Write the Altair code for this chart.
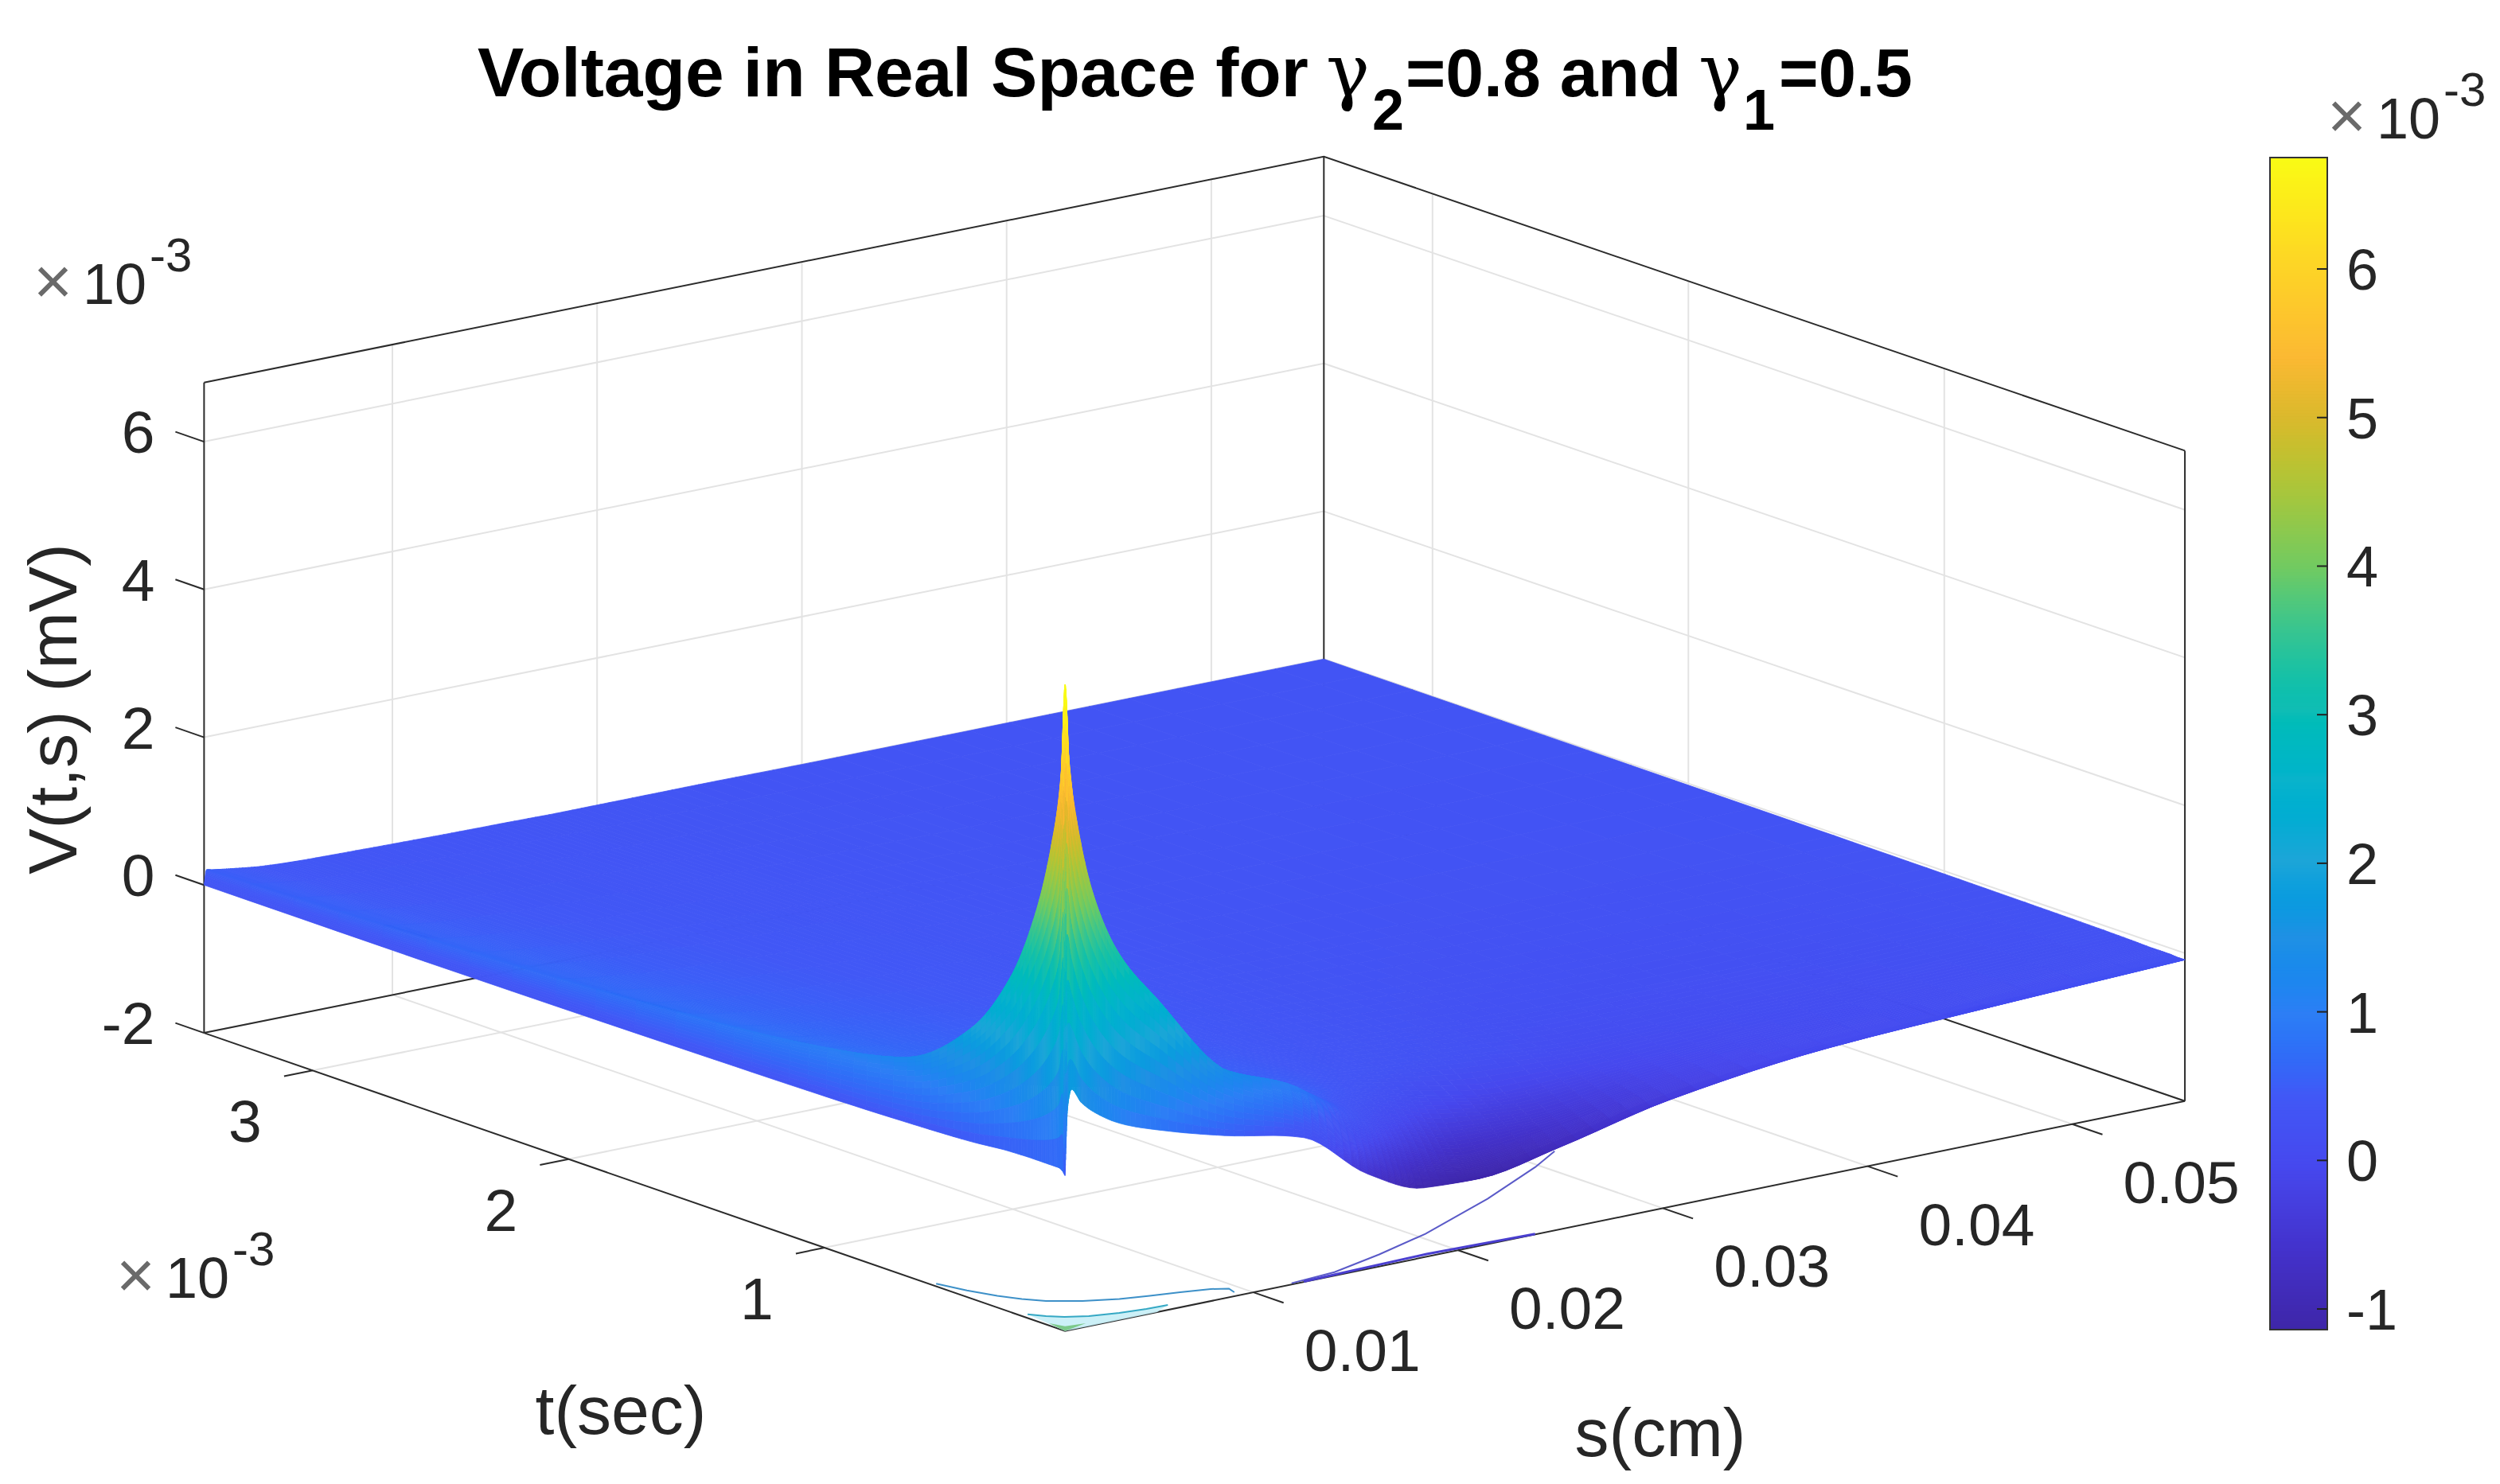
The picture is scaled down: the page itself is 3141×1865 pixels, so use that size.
import altair as alt
import numpy as np

alt.data_transformers.disable_max_rows()

W, H = 3125, 1845
OFF = 8
K = 3141 / 1568

# ---------------- axis limits and ticks ----------------
S_LIM = [0.0008, 0.0555]
T_LIM = [0.06, 3.4245]
Z_LIM = [-2.0, 6.8]
s_ticks = [0.01, 0.02, 0.03, 0.04, 0.05]
t_ticks = [1, 2, 3]
z_ticks = [-2, 0, 2, 4, 6]
bar_ticks = [-1, 0, 1, 2, 3, 4, 5, 6]
BAR_DOMAIN = [-1.139, 6.75]

# ---------------- surface values (x10^-3 mV) ----------------
s_nodes = [0.0008, 0.00092, 0.00111, 0.00158, 0.00236, 0.00353, 0.00547, 0.00859, 0.01248,
           0.0156, 0.01832, 0.02105, 0.02494, 0.03039, 0.03818, 0.04597, 0.0555]
t_nodes = [0.06, 0.0693, 0.0849, 0.1223, 0.1846, 0.2781, 0.4338, 0.683, 0.9946,
           1.4307, 2.0538, 2.729, 3.4245]
v_t00 = [0.10, 1.00, 1.25, 1.05, 0.85, 0.65, 0.45, 0.20, -0.05, -0.72, -1.06, -1.09, -0.89, -0.55, -0.29, -0.19, -0.09]
v_t01 = [0.15, 6.73, 5.70, 4.70, 3.75, 2.95, 2.20, 1.10, 0.45, -0.50, -0.95, -1.08, -0.88, -0.55, -0.29, -0.19, -0.09]
v_t02 = [0.18, 5.50, 5.10, 4.20, 3.40, 2.80, 2.05, 1.10, 0.60, -0.30, -0.85, -1.02, -0.85, -0.52, -0.28, -0.19, -0.09]
v_t03 = [0.18, 4.50, 4.00, 3.40, 2.90, 2.30, 1.60, 0.95, 0.58, 0.00, -0.55, -0.85, -0.75, -0.48, -0.27, -0.18, -0.08]
v_t04 = [0.18, 3.50, 3.10, 2.60, 2.20, 1.75, 1.25, 0.80, 0.50, 0.10, -0.25, -0.55, -0.60, -0.42, -0.25, -0.17, -0.08]
v_t05 = [0.17, 2.55, 2.25, 1.90, 1.55, 1.20, 0.90, 0.60, 0.38, 0.18, -0.02, -0.22, -0.40, -0.33, -0.22, -0.16, -0.07]
v_t06 = [0.12, 1.65, 1.50, 1.25, 1.00, 0.80, 0.60, 0.45, 0.30, 0.18, 0.08, 0.00, -0.08, -0.20, -0.18, -0.14, -0.06]
v_t07 = [0.08, 0.95, 0.90, 0.80, 0.65, 0.50, 0.42, 0.33, 0.23, 0.16, 0.10, 0.04, -0.03, -0.10, -0.13, -0.11, -0.05]
v_t08 = [0.05, 0.70, 0.65, 0.58, 0.50, 0.42, 0.33, 0.25, 0.18, 0.13, 0.10, 0.06, 0.00, -0.05, -0.09, -0.08, -0.04]
v_t09 = [0.03, 0.52, 0.50, 0.45, 0.40, 0.34, 0.27, 0.20, 0.14, 0.11, 0.08, 0.06, 0.02, -0.02, -0.05, -0.05, -0.03]
v_t10 = [0.01, 0.38, 0.36, 0.33, 0.30, 0.26, 0.20, 0.15, 0.10, 0.08, 0.06, 0.05, 0.03, 0.00, -0.02, -0.03, -0.02]
v_t11 = [0.00, 0.28, 0.27, 0.25, 0.22, 0.18, 0.14, 0.10, 0.07, 0.05, 0.04, 0.03, 0.02, 0.01, 0.00, -0.01, -0.01]
v_t12 = [0.00, 0.20, 0.19, 0.17, 0.14, 0.10, 0.07, 0.05, 0.03, 0.02, 0.01, 0.01, 0.01, 0.00, 0.00, 0.00, 0.00]
v_rows = [v_t00, v_t01, v_t02, v_t03, v_t04, v_t05, v_t06, v_t07, v_t08, v_t09, v_t10, v_t11, v_t12]

# The surface's colours read higher than its height gives, away from the trough.
COLOUR_LIFT = 0.32

# ---------------- floor contours (s, t) ----------------
c1_s = [0.00103, 0.00138, 0.00184, 0.0023, 0.00287, 0.00399, 0.00529, 0.00651, 0.00776, 0.00898, 0.00958, 0.00942]
c1_t = [0.582, 0.49, 0.408, 0.349, 0.30, 0.247, 0.207, 0.186, 0.167, 0.145, 0.122, 0.088]
c2_s = [0.00113, 0.00153, 0.00202, 0.00285, 0.00406, 0.00524, 0.00625]
c2_t = [0.2326, 0.1927, 0.1603, 0.131, 0.1092, 0.0974, 0.0943]
c3_s = [0.0008, 0.00099, 0.00121, 0.00212, 0.0008]
c3_t = [0.06, 0.1373, 0.093, 0.0843, 0.06]
c4_s = [0.01198, 0.01427, 0.01721, 0.02046, 0.02547, 0.02976, 0.03176]
c4_t = [0.0693, 0.0849, 0.1454, 0.2245, 0.3827, 0.5391, 0.6239]
c5_s = [0.0125, 0.0187, 0.0238]
c5_t = [0.063, 0.079, 0.063]

# parula, as seen on the colour bar
bar_fracs = [0, .07, .14, .2, .27, .335, .4, .47, .53, .6, .65, .715, .78, .83, .907, 1]
bar_colors = ["#3e26a8", "#4332cc", "#4648ee", "#4158f6", "#2d7ef5", "#2090e4", "#1da5d8", "#0ab3cb",
              "#10bdb4", "#3ac58e", "#70ca62", "#a8c63c", "#dbb92d", "#fbb933", "#fdd426", "#f9fb15"]
bar_domain = [BAR_DOMAIN[0] + f * (BAR_DOMAIN[1] - BAR_DOMAIN[0]) for f in bar_fracs]
color_scale = alt.Scale(domain=bar_domain, range=bar_colors, clamp=True)

TEXT = "#262626"
LINE = "#2b2b2b"
GRID = "#e3e3e3"
FONT = "Liberation Sans"


def project(s, t, z):
    """View of the box (MATLAB-like view), in full-page pixels."""
    a = 128.4 * (s - S_LIM[0]) / 0.01
    b = 160.5 * (t - T_LIM[0])
    h = (z - Z_LIM[0]) / (Z_LIM[1] - Z_LIM[0]) * 408
    return (668 + a - b) * K, (835 - 0.2054 * a - 0.3463 * b + 2.5 * (a / 702) * (b / 540) - h) * K


x_scale = alt.Scale(domain=[OFF, OFF + W], range=[0, W])
y_scale = alt.Scale(domain=[OFF, OFF + H], range=[0, H])


def lines_layer(segments, color, width):
    rows = []
    for k, seg in enumerate(segments):
        for i, p in enumerate(seg):
            x, y = project(*p)
            rows.append({"x": round(x, 1), "y": round(y, 1), "seg": k, "i": i})
    return alt.Chart(alt.Data(values=rows)).mark_line(color=color, strokeWidth=width, clip=False).encode(
        x=alt.X("x:Q", scale=x_scale, axis=None),
        y=alt.Y("y:Q", scale=y_scale, axis=None),
        detail="seg:N",
        order="i:Q",
    )


s0, s1 = S_LIM
t0, t1 = T_LIM
z0, z1 = Z_LIM

grid_segs = []
for s in s_ticks:
    grid_segs.append([(s, t0, z0), (s, t1, z0)])
    grid_segs.append([(s, t1, z0), (s, t1, z1)])
for t in t_ticks:
    grid_segs.append([(s0, t, z0), (s1, t, z0)])
    grid_segs.append([(s1, t, z0), (s1, t, z1)])
for z in z_ticks:
    grid_segs.append([(s0, t1, z), (s1, t1, z)])
    grid_segs.append([(s1, t1, z), (s1, t0, z)])

box_segs = [
    [(s0, t1, z1), (s1, t1, z1), (s1, t0, z1)],
    [(s0, t1, z0), (s0, t1, z1)],
    [(s1, t0, z0), (s1, t0, z1)],
    [(s1, t1, z0), (s1, t1, z1)],
    [(s0, t1, z0), (s0, t0, z0), (s1, t0, z0)],
    [(s0, t1, z0), (s1, t1, z0), (s1, t0, z0)],
]
for s in s_ticks:
    box_segs.append([(s, t0, z0), (s, t0 - 0.118, z0)])
for t in t_ticks:
    box_segs.append([(s0, t, z0), (s0 - 0.0014, t, z0)])
for z in z_ticks:
    box_segs.append([(s0, t1, z), (s0, t1 + 0.112, z)])


def poly(points):
    ring = [[round(float(x) - OFF, 1), round(float(y) - OFF, 1)] for x, y in points]
    ring.append(ring[0])
    return {"type": "Polygon", "coordinates": [ring]}


def pchip(x, y, xq):
    """Monotone shading between the read values, so facets do not show."""
    x, y = np.asarray(x, float), np.asarray(y, float)
    h = np.diff(x)
    d = np.diff(y) / h
    m = np.zeros_like(y)
    for k in range(1, len(y) - 1):
        if d[k - 1] * d[k] > 0:
            w1, w2 = 2 * h[k] + h[k - 1], h[k] + 2 * h[k - 1]
            m[k] = (w1 + w2) / (w1 / d[k - 1] + w2 / d[k])
    m[0], m[-1] = d[0], d[-1]
    idx = np.clip(np.searchsorted(x, xq, side="right") - 1, 0, len(h) - 1)
    u = (xq - x[idx]) / h[idx]
    return (y[idx] * (2 * u**3 - 3 * u**2 + 1) + h[idx] * m[idx] * (u**3 - 2 * u**2 + u)
            + y[idx + 1] * (-2 * u**3 + 3 * u**2) + h[idx] * m[idx + 1] * (u**3 - u**2))


def refine(nodes, counts):
    out = []
    for k, c in enumerate(counts):
        out.extend(np.linspace(nodes[k], nodes[k + 1], c, endpoint=False))
    out.append(nodes[-1])
    return np.array(out)


s_fine = refine(s_nodes, [14, 12, 10, 8, 8, 8, 8, 8, 8, 8, 6, 6, 6, 6, 4, 4])
t_fine = refine(t_nodes, [12, 12, 10, 8, 8, 8, 8, 6, 6, 4, 4, 4])
rows_fine = np.array([pchip(s_nodes, row, s_fine) for row in v_rows])
v_fine = np.array([pchip(t_nodes, rows_fine[:, c], t_fine) for c in range(len(s_fine))]).T

# Painter's order: far cells first.
features = []
for j in range(len(t_fine) - 2, -1, -1):
    for i in range(len(s_fine) - 2, -1, -1):
        idx = [(i, j), (i + 1, j), (i + 1, j + 1), (i, j + 1)]
        pts = [project(s_fine[p], t_fine[q], v_fine[q, p]) for p, q in idx]
        mean_v = float(sum(v_fine[q, p] for p, q in idx) / 4)
        shade = round(mean_v + COLOUR_LIFT * min(1.0, max(0.0, (mean_v + 1.1) / 0.8)), 3)
        features.append({"type": "Feature", "geometry": poly(pts), "V": shade, "edge": shade})

surface = alt.Chart(alt.Data(values=features)).mark_geoshape(strokeWidth=0.8).encode(
    fill=alt.Fill("V:Q", scale=color_scale, legend=None),
    stroke=alt.Stroke("edge:Q", scale=color_scale, legend=None),
).project(type="identity", scale=1, translate=[0, 0])


def floor_poly(ss, ts, fill, opacity=1.0):
    pts = [project(a, b, z0) for a, b in zip(ss, ts)]
    feat = [{"type": "Feature", "geometry": poly(pts)}]
    return alt.Chart(alt.Data(values=feat)).mark_geoshape(fill=fill, stroke=None, opacity=opacity).project(
        type="identity", scale=1, translate=[0, 0])


def floor_line(ss, ts, color, width):
    return lines_layer([[(a, b, z0) for a, b in zip(ss, ts)]], color, width)


def txt(s, x, y, size, bold=False, font=FONT, color=TEXT, align="left", baseline="alphabetic", angle=0):
    return alt.Chart(alt.Data(values=[{"label": s}])).mark_text(
        font=font, fontSize=size, fontWeight="bold" if bold else "normal", color=color,
        align=align, baseline=baseline, angle=angle,
    ).encode(x=alt.value(x - OFF), y=alt.value(y - OFF), text="label:N")


def tick_labels(values, fmt, point, dx, dy, size=75, align="center"):
    rows = []
    for v in values:
        x, y = project(*point(v))
        rows.append({"x": x + dx, "y": y + dy, "label": fmt(v)})
    return alt.Chart(alt.Data(values=rows)).mark_text(
        font=FONT, fontSize=size, color=TEXT, align=align, baseline="middle"
    ).encode(x=alt.X("x:Q", scale=x_scale, axis=None), y=alt.Y("y:Q", scale=y_scale, axis=None), text="label:N")


def exponent(x, y):
    return [txt("×", x - 4, y, 84, color="#6a6a6a"),
            txt("10", x + 58, y, 72),
            txt("-3", x + 142, y - 41, 60)]


# ---------------- colour bar ----------------
BAR_TOP, BAR_BOTTOM = 198, 1671
BAR_LEFT, BAR_RIGHT = 2852, 2924


def bar_y(v):
    return BAR_BOTTOM - (v - BAR_DOMAIN[0]) / (BAR_DOMAIN[1] - BAR_DOMAIN[0]) * (BAR_BOTTOM - BAR_TOP)


ramp_edges = np.linspace(BAR_DOMAIN[0], BAR_DOMAIN[1], 369)
ramp_rows = [{"V": float((lo + hi) / 2), "x": BAR_LEFT, "x2": BAR_RIGHT, "y": bar_y(hi), "y2": bar_y(lo) + 1}
             for lo, hi in zip(ramp_edges[:-1], ramp_edges[1:])]
bar_ramp = alt.Chart(alt.Data(values=ramp_rows)).mark_rect(strokeWidth=0).encode(
    x=alt.X("x:Q", scale=x_scale, axis=None), x2="x2:Q",
    y=alt.Y("y:Q", scale=y_scale, axis=None), y2="y2:Q",
    fill=alt.Fill("V:Q", scale=color_scale, legend=None),
)
bar_frame = alt.Chart(alt.Data(values=[{"x": BAR_LEFT, "x2": BAR_RIGHT, "y": BAR_TOP, "y2": BAR_BOTTOM}])).mark_rect(
    fill=None, stroke="#333333", strokeWidth=2
).encode(x=alt.X("x:Q", scale=x_scale, axis=None), x2="x2:Q",
         y=alt.Y("y:Q", scale=y_scale, axis=None), y2="y2:Q")
bar_tick_rows = [{"x": BAR_RIGHT - 13, "x2": BAR_RIGHT, "y": bar_y(v)} for v in bar_ticks]
bar_tick_layer = alt.Chart(alt.Data(values=bar_tick_rows)).mark_rule(color="#222222", strokeWidth=2).encode(
    x=alt.X("x:Q", scale=x_scale, axis=None), x2="x2:Q", y=alt.Y("y:Q", scale=y_scale, axis=None))
bar_label_rows = [{"x": BAR_RIGHT + 24, "y": bar_y(v) + 4, "label": str(v)} for v in bar_ticks]
bar_labels = alt.Chart(alt.Data(values=bar_label_rows)).mark_text(
    font=FONT, fontSize=72, color=TEXT, align="left", baseline="middle"
).encode(x=alt.X("x:Q", scale=x_scale, axis=None), y=alt.Y("y:Q", scale=y_scale, axis=None), text="label:N")

layers = [
    lines_layer(grid_segs, GRID, 2),
    lines_layer(box_segs, LINE, 2),
    floor_poly(c2_s + [s0 + 0.0045, s0], c2_t + [t0, t0], "#c6eef6", 0.9),
    floor_poly(c3_s, c3_t, "#7cc98a"),
    floor_line(c1_s, c1_t, "#3d90c8", 2),
    floor_line(c2_s, c2_t, "#35a8c4", 2),
    floor_line(c4_s, c4_t, "#5a5ac8", 2),
    floor_line(c5_s, c5_t, "#4a3fd0", 3),
    surface,
    bar_ramp,
    bar_frame,
    bar_tick_layer,
    bar_labels,
    tick_labels(s_ticks, lambda v: f"{v:.2f}", lambda v: (v, t0, z0), 137, 76),
    tick_labels(t_ticks, lambda v: f"{v}", lambda v: (s0, v, z0), -85, 67),
    tick_labels(z_ticks, lambda v: f"{v}", lambda v: (s0, t1, v), -62, -9, align="right"),
    txt("Voltage in Real Space for", 600, 121, 87.5, bold=True, color="#000000"),
    txt("γ", 1666, 121, 92, font="DejaVu Serif", color="#000000"),
    txt("2", 1724, 163, 72, bold=True, color="#000000"),
    txt("=0.8 and", 1766, 121, 86, bold=True, color="#000000"),
    txt("γ", 2134, 121, 92, font="DejaVu Serif", color="#000000"),
    txt("1", 2190, 163, 72, bold=True, color="#000000"),
    txt("=0.5", 2235, 121, 85, bold=True, color="#000000"),
    txt("t(sec)", 780, 1802, 86, align="center"),
    txt("s(cm)", 2086, 1830, 86, align="center"),
    txt("V(t,s) (mV)", 70, 891, 86, align="center", baseline="middle", angle=270),
] + exponent(46, 382) + exponent(150, 1631) + exponent(2928, 174)

chart = alt.layer(*layers).resolve_scale(x="shared", y="shared").properties(
    width=W, height=H, padding=0, background="white",
    autosize=alt.AutoSizeParams(type="none"),
).configure_view(stroke=None)

chart.save("out.html", embed_options={"renderer": "svg", "actions": False})
